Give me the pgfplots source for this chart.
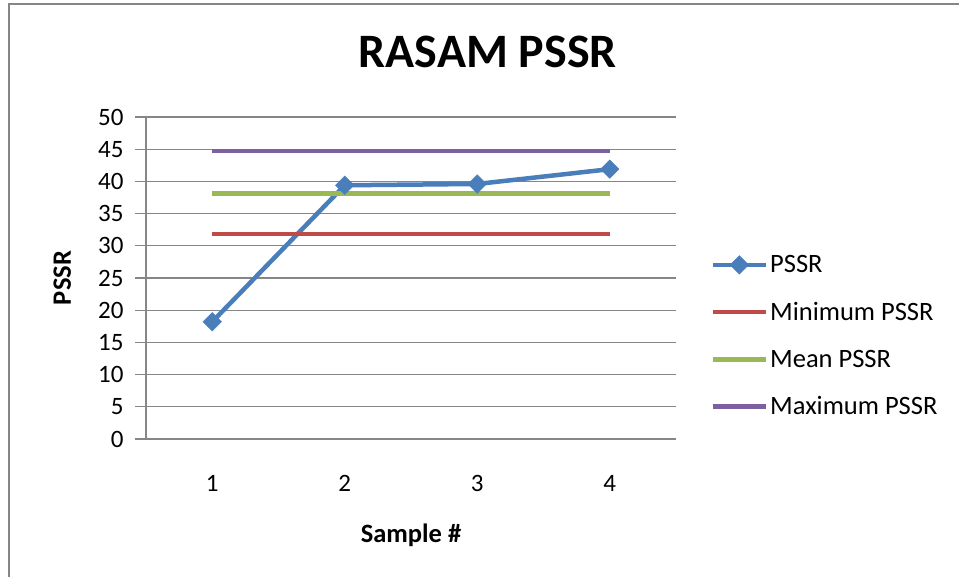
\documentclass[border=0pt]{standalone}
\usepackage{pgfplots}
\pgfplotsset{compat=1.18}
\usepackage{fontspec}
\setmainfont{Carlito}
\definecolor{sblue}{RGB}{74,126,187}
\definecolor{sred}{RGB}{190,75,72}
\definecolor{sgreen}{RGB}{152,185,84}
\definecolor{spurple}{RGB}{125,96,160}
\definecolor{gridgray}{RGB}{134,134,134}
\begin{document}
\begin{tikzpicture}
\useasboundingbox (-146pt,-138pt) rectangle (813pt,439pt);
\draw[gridgray, line width=2pt] (-137pt,-145pt) -- (-137pt,435pt) -- (820pt,435pt);
\begin{axis}[
  at={(0,0)}, anchor=south west,
  scale only axis, width=530pt, height=322pt,
  xmin=0.5, xmax=4.5, ymin=0, ymax=50,
  xtick={1,2,3,4}, ytick={0,5,...,50},
  axis x line*=bottom, axis y line*=left,
  axis line style={gridgray, line width=1.3pt, -},
  ymajorgrids, grid style={gridgray, line width=1.3pt},
  major tick length=11pt, tick align=outside,
  ytick style={gridgray, line width=1.3pt},
  xtick style={draw=none},
  /pgf/number format/assume math mode=true,
  tick label style={font=\fontsize{25}{29}\selectfont, black},
  yticklabel style={xshift=-8pt},
  xticklabel style={yshift=-22pt},
  title={RASAM PSSR},
  title style={at={(axis description cs:0.645,1.183)}, anchor=center, font=\fontsize{48}{52}\selectfont\bfseries},
  xlabel={Sample \#}, ylabel={PSSR},
  xlabel style={at={(axis description cs:0.5,-0.298)}, anchor=center, font=\fontsize{26.5}{30}\selectfont\bfseries},
  ylabel style={at={(axis description cs:-0.158,0.5)}, anchor=center, font=\fontsize{26.5}{30}\selectfont\bfseries},
  legend style={at={(axis description cs:1.065,0.32)}, anchor=west, draw=none, fill=none,
     font=\fontsize{26.5}{30}\selectfont, row sep=24pt, inner sep=0pt},
  legend cell align=left,
  legend image code/.code={
    \draw[#1] (0pt,0pt) -- (53pt,0pt);
    \draw[#1, only marks] plot coordinates {(26.5pt,0pt)};
  },
  /tikz/every even column/.append style={column sep=3pt},
]
\addplot[sblue, line width=4.5pt, mark=square*, mark size=6.5pt, mark options={rotate=45, line width=0.5pt}]
  coordinates {(1,18.2) (2,39.4) (3,39.6) (4,41.9)};
\addlegendentry{PSSR}
\addplot[sred, line width=4.5pt, no marks]
  coordinates {(1,31.8) (2,31.8) (3,31.8) (4,31.8)};
\addlegendentry{Minimum PSSR}
\addplot[sgreen, line width=4.5pt, no marks]
  coordinates {(1,38.1) (2,38.1) (3,38.1) (4,38.1)};
\addlegendentry{Mean PSSR}
\addplot[spurple, line width=4.5pt, no marks]
  coordinates {(1,44.7) (2,44.7) (3,44.7) (4,44.7)};
\addlegendentry{Maximum PSSR}
\end{axis}
\end{tikzpicture}
\end{document}
